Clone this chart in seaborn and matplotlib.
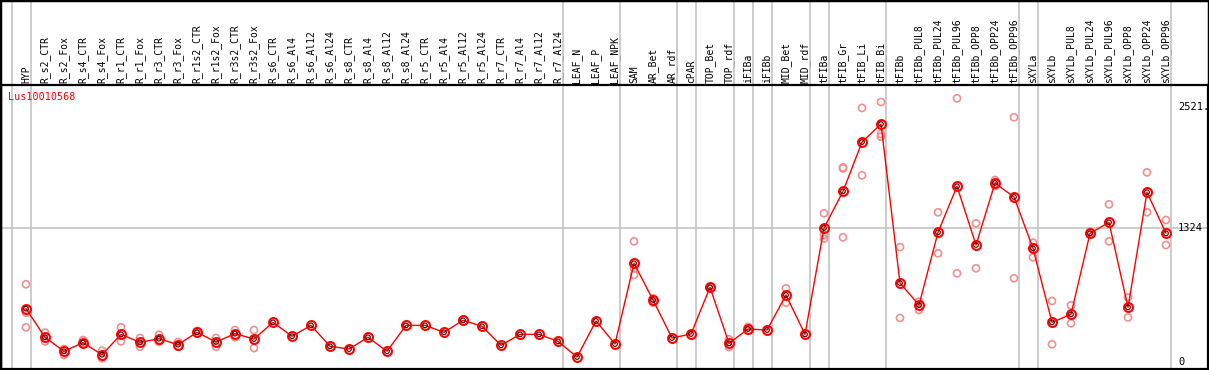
import numpy as np
import pandas as pd
import matplotlib
matplotlib.use("Agg")
import matplotlib.pyplot as plt
import seaborn as sns
from matplotlib.patches import Rectangle

categories = ["HYP", "R_s2_CTR", "R_s2_Fox", "R_s4_CTR", "R_s4_Fox", "R_r1_CTR", "R_r1_Fox",
              "R_r3_CTR", "R_r3_Fox", "R_r1s2_CTR", "R_r1s2_Fox", "R_r3s2_CTR", "R_r3s2_Fox",
              "R_s6_CTR", "R_s6_Al4", "R_s6_Al12", "R_s6_Al24", "R_s8_CTR", "R_s8_Al4",
              "R_s8_Al12", "R_s8_Al24", "R_r5_CTR", "R_r5_Al4", "R_r5_Al12", "R_r5_Al24",
              "R_r7_CTR", "R_r7_Al4", "R_r7_Al12", "R_r7_Al24", "LEAF_N", "LEAF_P", "LEAF_NPK",
              "SAM", "AR_Bet", "AR_rdf", "cPAR", "TOP_Bet", "TOP_rdf", "iFIBa", "iFIBb",
              "MID_Bet", "MID_rdf", "tFIBa", "tFIB_Gr", "tFIB_Li", "tFIB_Bi", "tFIBb",
              "tFIBb_PUL8", "tFIBb_PUL24", "tFIBb_PUL96", "tFIBb_OPP8", "tFIBb_OPP24",
              "tFIBb_OPP96", "sXYLa", "sXYLb", "sXYLb_PUL8", "sXYLb_PUL24", "sXYLb_PUL96",
              "sXYLb_OPP8", "sXYLb_OPP24", "sXYLb_OPP96"]

means = [527, 244, 106, 191, 72, 273, 194, 230, 171, 293, 198, 280, 227,
         392, 254, 362, 155, 128, 244, 106, 362, 362, 293, 412, 353,
         165, 273, 273, 204, 49, 405, 178,
         975, 613, 237, 277, 738, 184, 326, 316, 662, 273,
         1324, 1686, 2173, 2351, 780, 563, 1281, 1736, 1156, 1768, 1630,
         1123, 392, 471, 1271, 1380, 540, 1677, 1271]

nan = np.nan
rep_a = [768, 290, 128, 217, 112, 343, 237, 270, 198, 306, 237, 316, 316,
         nan, nan, nan, nan, nan, nan, nan, nan, nan, nan, nan, nan,
         nan, nan, nan, nan, nan, nan, nan,
         1192, 629, nan, nan, 743, 224, 346, nan, 728, nan,
         1469, 1923, 2510, 2569, 1136, 596, 1479, 2605, 1370, 1798, 2418,
         1179, 603, 560, 1284, 1558, 639, 1874, 1403]
rep_b = [487, 204, 69, 185, 36, 204, 151, 198, 151, 283, 151, 244, 138,
         nan, nan, nan, nan, nan, nan, nan, nan, nan, nan, nan, nan,
         nan, nan, nan, nan, nan, nan, nan,
         926, 586, nan, nan, 727, 148, 309, nan, 586, nan,
         1255, 1913, 1845, 2253, 435, 514, 1074, 876, 926, 1739, 827,
         1034, 175, 382, 1264, 1192, 441, 1479, 1156]
rep_c = [343] + [nan] * 31 + [860] + [nan] * 9 + [1218, 1232, nan, 2226] + [nan] * 15

group_ends = [-1, 0, 28, 31, 34, 35, 37, 38, 39, 41, 42, 45, 52, 53, 60]
y_ticks = [0, 1324, 2521]
y_tick_labels = ["0", "1324", "2521."]
ref_value = 1324
gene = "Lus10010568"

sns.set_theme(style="white")
plt.rcParams['font.family'] = ['DejaVu Sans Mono']

W, H = 1209, 370
fig = plt.figure(figsize=(W / 100, H / 100), dpi=100)
fig.patch.set_facecolor("white")
top_px, bot_px = 85, 369
ax = fig.add_axes([1 / W, (H - bot_px) / H, (W - 2) / W, (bot_px - top_px) / H])
ax.set_facecolor("white")

x = np.arange(len(categories))
df_means = pd.DataFrame({"x": x, "value": means})
df_reps = pd.DataFrame({"x": np.concatenate([x, x, x]),
                        "value": np.concatenate([rep_a, rep_b, rep_c])}).dropna()

# separators and reference line
ext = (bot_px - 0) / (bot_px - top_px)
for g in group_ends:
    ax.axvline(g + 0.25, ymin=0, ymax=ext, color="#c4c4c4", lw=1.2, clip_on=False, zorder=1)
ax.axhline(ref_value, color="#c4c4c4", lw=1.2, zorder=1)

sns.scatterplot(data=df_reps, x="x", y="value", ax=ax, marker="o", s=26,
                facecolors="none", edgecolor="#f09090", linewidth=1.2, zorder=2, legend=False)
sns.lineplot(data=df_means, x="x", y="value", ax=ax, color="red", lw=1.0,
             marker="o", markersize=6.4, markerfacecolor="none", markeredgecolor="#ff0000",
             markeredgewidth=1.5, zorder=3, legend=False)
sns.scatterplot(data=df_means, x="x", y="value", ax=ax, marker="o", s=11,
                facecolors="none", edgecolor="#400000", linewidth=0.8, zorder=4, legend=False)

ax.set_xlim((1 - 26) / 19, (W - 1 - 26) / 19)
ax.set_ylim(-(bot_px - 362) * 9.88, (362 - top_px) * 9.88)

ax.xaxis.tick_top()
ax.set_xticks(x)
ax.set_xticklabels(categories, rotation=90, fontsize=7, color="black")
ax.tick_params(axis="x", length=0, pad=1.5)
ax.set_yticks([])
ax.set_xlabel("")
ax.set_ylabel("")
for s in ax.spines.values():
    s.set_color("black")
    s.set_linewidth(1.6)

for v, lab in zip(y_ticks, y_tick_labels):
    ax.text((1178 - 1) / (W - 2), v, lab, transform=ax.get_yaxis_transform(),
            ha="left", va="center", fontsize=7.5, color="black")

fig.text(8 / W, (H - 97) / H, gene, color="red", fontsize=7.3, ha="left", va="center")
fig.patches.append(Rectangle((0, 0), 1, 1, transform=fig.transFigure, fill=False,
                             edgecolor="black", linewidth=2.5))

fig.savefig("out.png", dpi=100, facecolor="white")
